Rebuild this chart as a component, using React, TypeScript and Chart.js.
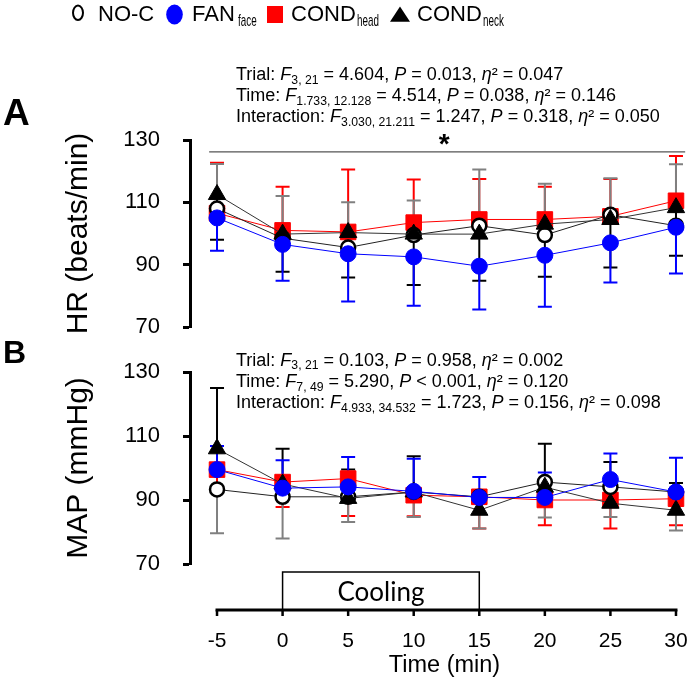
import React, { useEffect, useRef } from "react";
import { Chart, registerables } from "chart.js";

Chart.register(...registerables);

const FONT = '"Liberation Sans", Arial, Helvetica, sans-serif';
const BLUE = "#0000ff";
const RED = "#ff0000";
const GRAY = "#808080";
const BLACK = "#000000";

// Time points (min)
const TIMES = [-5, 0, 5, 10, 15, 20, 25, 30];
const X_TICKS = [-5, 0, 5, 10, 15, 20, 25, 30];
const Y_TICKS = [70, 90, 110, 130];
const COOLING = [0, 15];

// Heart rate (beats/min), mean and SD
const HR_NOC = [108, 98.5, 95.5, 99.5, 102.5, 99.5, 106, 102.5];
const HR_NOC_SD = [14.3, 13.5, 14.5, 11.1, 18, 16.5, 11.7, 19.7];
const HR_FAN = [105, 96.5, 93.5, 92.5, 89.5, 93, 97, 102];
const HR_FAN_SD = [10.5, 11.7, 15.3, 15.7, 13.9, 16.5, 12.7, 14.8];
const HR_HEAD = [106.5, 101, 100.5, 103.5, 104.5, 104.5, 105.5, 110.5];
const HR_HEAD_SD = [16.2, 14, 20, 13.8, 13, 10.5, 12, 14.4];
const HR_NECK = [112.5, 99.8, 100.3, 99.8, 99.8, 103, 104.5, 108.3];
const HR_NECK_SD = [14.5, 12.1, 14.4, 16.3, 15, 16.9, 15.4, 15.4];

// Mean arterial pressure (mmHg), mean and SD
const MAP_NOC = [93.3, 91, 91, 92.5, 91, 95.6, 94.1, 92.5];
const MAP_NOC_SD = [13.7, 13, 7.9, 7.8, 9.9, 11.1, 9.4, 12];
const MAP_FAN = [99.5, 93.7, 94.1, 92.7, 90.8, 90.8, 96.4, 92.5];
const MAP_FAN_SD = [7.4, 8.7, 9.3, 10.2, 6.4, 7.8, 8.1, 10.7];
const MAP_HEAD = [99.5, 95.6, 96.7, 91.5, 91, 90, 90, 90.4];
const MAP_HEAD_SD = [6, 7.8, 11.7, 6.6, 9.9, 7.9, 8.9, 8.3];
const MAP_NECK = [106, 95, 90.5, 92.5, 86.8, 94, 89, 86.8];
const MAP_NECK_SD = [19, 11, 9, 11.2, 6, 13.6, 12.9, 8.5];

// Time main-effect bracket in the HR panel
const SIG_SPAN = [-5.6, 30.7];
const SIG_Y = 126.2;

// x range of the plot area
const X_MIN = -7.06;
const X_MAX = 30.84;

const STATS_HR = [
  { name: "Trial", df: "3, 21", f: "4.604", p: "= 0.013", eta: "0.047" },
  { name: "Time", df: "1.733, 12.128", f: "4.514", p: "= 0.038", eta: "0.146" },
  { name: "Interaction", df: "3.030, 21.211", f: "1.247", p: "= 0.318", eta: "0.050" },
];
const STATS_MAP = [
  { name: "Trial", df: "3, 21", f: "0.103", p: "= 0.958", eta: "0.002" },
  { name: "Time", df: "7, 49", f: "5.290", p: "< 0.001", eta: "0.120" },
  { name: "Interaction", df: "4.933, 34.532", f: "1.723", p: "= 0.156", eta: "0.098" },
];

const errorBars = {
  id: "errorBars",
  beforeDatasetsDraw(chart: any) {
    const { ctx, scales } = chart;
    const xs = scales.x;
    const ys = scales.y;
    const sets = chart.data.datasets;
    for (let i = sets.length - 1; i >= 0; i--) {
      const ds = sets[i];
      if (!ds.sd) continue;
      ctx.save();
      ctx.strokeStyle = ds.errColor;
      ctx.lineWidth = 2;
      ds.data.forEach((p: any, j: number) => {
        const px = xs.getPixelForValue(p.x);
        const py = ys.getPixelForValue(p.y);
        const ey = ys.getPixelForValue(p.y + ds.dir * ds.sd[j]);
        ctx.beginPath();
        ctx.moveTo(px, py);
        ctx.lineTo(px, ey);
        ctx.moveTo(px - 7, ey);
        ctx.lineTo(px + 7, ey);
        ctx.stroke();
      });
      ctx.restore();
    }
  },
};

const asterisk = {
  id: "asterisk",
  afterDraw(chart: any) {
    const { ctx, scales } = chart;
    const cx = scales.x.getPixelForValue((SIG_SPAN[0] + SIG_SPAN[1]) / 2);
    const cy = scales.y.getPixelForValue(SIG_Y);
    ctx.save();
    ctx.fillStyle = BLACK;
    ctx.font = `bold 28px ${FONT}`;
    ctx.textAlign = "center";
    ctx.textBaseline = "alphabetic";
    ctx.fillText("*", cx - 3, cy + 1);
    ctx.restore();
  },
};

const timeAxis = {
  id: "timeAxis",
  afterDraw(chart: any) {
    const { ctx, scales, chartArea } = chart;
    const xs = scales.x;
    const axisY = chartArea.bottom + 46;
    const x0 = xs.getPixelForValue(X_TICKS[0]);
    const x1 = xs.getPixelForValue(X_TICKS[X_TICKS.length - 1]);
    ctx.save();
    ctx.strokeStyle = BLACK;
    // cooling period box
    const c0 = xs.getPixelForValue(COOLING[0]);
    const c1 = xs.getPixelForValue(COOLING[1]);
    ctx.lineWidth = 1.5;
    ctx.strokeRect(c0, axisY - 38, c1 - c0, 38);
    ctx.fillStyle = BLACK;
    ctx.font = `26px Lato, "Open Sans", sans-serif`;
    ctx.textAlign = "center";
    ctx.textBaseline = "alphabetic";
    ctx.fillText("Cooling", (c0 + c1) / 2, axisY - 9);
    // axis line and ticks
    ctx.lineWidth = 3;
    ctx.beginPath();
    ctx.moveTo(x0 - 1.5, axisY);
    ctx.lineTo(x1 + 1.5, axisY);
    ctx.stroke();
    ctx.lineWidth = 2.5;
    ctx.font = `21px ${FONT}`;
    X_TICKS.forEach((t) => {
      const px = xs.getPixelForValue(t);
      ctx.beginPath();
      ctx.moveTo(px, axisY);
      ctx.lineTo(px, axisY + 6);
      ctx.stroke();
      ctx.fillText(String(t), px, axisY + 37);
    });
    ctx.font = `23.5px ${FONT}`;
    ctx.fillText("Time (min)", (x0 + x1) / 2 - 2, axisY + 62);
    ctx.restore();
  },
};

type PanelSpec = {
  top: number;
  bottom: number;
  title: string;
  noc: number[];
  nocSd: number[];
  fan: number[];
  fanSd: number[];
  head: number[];
  headSd: number[];
  neck: number[];
  neckSd: number[];
  up: boolean; // NO-C / COND_head bars up, FAN / COND_neck bars down
  sig: boolean;
  axis: boolean;
};

function pts(vals: number[]) {
  return TIMES.map((t, i) => ({ x: t, y: vals[i] }));
}

function buildConfig(p: PanelSpec): any {
  const a = p.up ? 1 : -1;
  const datasets: any[] = [
    {
      label: "FANface",
      data: pts(p.fan),
      sd: p.fanSd,
      dir: -a,
      errColor: BLUE,
      borderColor: BLUE,
      borderWidth: 1,
      pointStyle: "circle",
      pointRadius: 8,
      pointBackgroundColor: BLUE,
      pointBorderColor: BLUE,
      pointBorderWidth: 1,
      clip: false,
    },
    {
      label: "CONDneck",
      data: pts(p.neck),
      sd: p.neckSd,
      dir: -a,
      errColor: BLACK,
      borderColor: "#333",
      borderWidth: 1,
      pointStyle: "triangle",
      pointRadius: 10,
      pointBackgroundColor: BLACK,
      pointBorderColor: BLACK,
      pointBorderWidth: 1,
      clip: false,
    },
    {
      label: "NO-C",
      data: pts(p.noc),
      sd: p.nocSd,
      dir: a,
      errColor: GRAY,
      borderColor: "#222",
      borderWidth: 1,
      pointStyle: "circle",
      pointRadius: 7,
      pointBackgroundColor: "#fff",
      pointBorderColor: BLACK,
      pointBorderWidth: 2.5,
      clip: false,
    },
    {
      label: "CONDhead",
      data: pts(p.head),
      sd: p.headSd,
      dir: a,
      errColor: RED,
      borderColor: RED,
      borderWidth: 1,
      pointStyle: "rect",
      pointRadius: 11,
      pointBackgroundColor: RED,
      pointBorderColor: RED,
      pointBorderWidth: 1,
      clip: false,
    },
  ];
  if (p.sig) {
    datasets.push({
      label: "time effect",
      data: [
        { x: SIG_SPAN[0], y: SIG_Y },
        { x: SIG_SPAN[1], y: SIG_Y },
      ],
      borderColor: "#555",
      borderWidth: 1.3,
      pointRadius: 0,
      clip: false,
    });
  }
  const plugins: any[] = [errorBars];
  if (p.sig) plugins.push(asterisk);
  if (p.axis) plugins.push(timeAxis);
  return {
    type: "line",
    data: { datasets },
    options: {
      responsive: false,
      animation: false,
      events: [],
      layout: {
        autoPadding: false,
        padding: { top: p.top, bottom: 686 - p.bottom, left: 0, right: 1 },
      },
      plugins: { legend: { display: false }, tooltip: { enabled: false } },
      scales: {
        x: { type: "linear", display: false, min: X_MIN, max: X_MAX },
        y: {
          type: "linear",
          min: Y_TICKS[0],
          max: Y_TICKS[Y_TICKS.length - 1],
          afterFit: (s: any) => {
            s.width = 190;
          },
          afterBuildTicks: (s: any) => {
            s.ticks = Y_TICKS.map((v) => ({ value: v }));
          },
          ticks: { color: BLACK, font: { family: FONT, size: 22 }, padding: 23 },
          grid: {
            drawOnChartArea: false,
            drawTicks: true,
            tickLength: 7,
            tickWidth: 3,
            tickColor: BLACK,
          },
          border: { display: true, color: BLACK, width: 3 },
          title: {
            display: true,
            text: p.title,
            color: BLACK,
            font: { family: FONT, size: 30 },
            padding: { top: 61, bottom: 0 },
          },
        },
      },
    },
    plugins,
  };
}

const PANEL_A: PanelSpec = {
  top: 140,
  bottom: 327,
  title: "HR (beats/min)",
  noc: HR_NOC,
  nocSd: HR_NOC_SD,
  fan: HR_FAN,
  fanSd: HR_FAN_SD,
  head: HR_HEAD,
  headSd: HR_HEAD_SD,
  neck: HR_NECK,
  neckSd: HR_NECK_SD,
  up: true,
  sig: true,
  axis: false,
};

const PANEL_B: PanelSpec = {
  top: 372,
  bottom: 564,
  title: "MAP (mmHg)",
  noc: MAP_NOC,
  nocSd: MAP_NOC_SD,
  fan: MAP_FAN,
  fanSd: MAP_FAN_SD,
  head: MAP_HEAD,
  headSd: MAP_HEAD_SD,
  neck: MAP_NECK,
  neckSd: MAP_NECK_SD,
  up: false,
  sig: false,
  axis: true,
};

function Panel({ spec }: { spec: PanelSpec }) {
  const ref = useRef<HTMLCanvasElement | null>(null);
  useEffect(() => {
    if (!ref.current) return;
    const chart = new Chart(ref.current, buildConfig(spec));
    return () => chart.destroy();
  }, [spec]);
  return (
    <canvas
      ref={ref}
      width={688}
      height={686}
      style={{ position: "absolute", left: 0, top: 0, width: 688, height: 686 }}
    />
  );
}

function Txt(props: {
  x: number;
  base: number;
  size: number;
  bold?: boolean;
  style?: React.CSSProperties;
  children: React.ReactNode;
}) {
  const { x, base, size, bold, style, children } = props;
  return (
    <div
      style={{
        position: "absolute",
        left: x,
        top: base - 0.8465 * size,
        fontSize: size,
        lineHeight: `${size}px`,
        fontWeight: bold ? "bold" : "normal",
        whiteSpace: "nowrap",
        fontFamily: FONT,
        color: BLACK,
        ...style,
      }}
    >
      {children}
    </div>
  );
}

const Sub = ({ children }: { children: React.ReactNode }) => (
  <span style={{ fontSize: "0.68em", position: "relative", top: "0.3em" }}>{children}</span>
);

function StatLines({ rows, bases }: { rows: typeof STATS_HR; bases: number[] }) {
  return (
    <>
      {rows.map((r, i) => (
        <Txt key={r.name} x={236} base={bases[i]} size={18}>
          {r.name}: <i>F</i>
          <Sub>{r.df}</Sub> = {r.f}, <i>P</i> {r.p}, <i>η</i>² = {r.eta}
        </Txt>
      ))}
    </>
  );
}

function LegendSub({ x, text }: { x: number; text: string }) {
  return (
    <Txt x={x} base={26.5} size={17} style={{ transform: "scaleX(0.58)", transformOrigin: "left" }}>
      {text}
    </Txt>
  );
}

export default function App() {
  return (
    <div
      style={{
        position: "fixed",
        left: 0,
        top: 0,
        width: 688,
        height: 686,
        background: "#fff",
        overflow: "hidden",
      }}
    >
      <Panel spec={PANEL_A} />
      <Panel spec={PANEL_B} />

      {/* legend */}
      <svg width={688} height={40} style={{ position: "absolute", left: 0, top: 0 }}>
        <ellipse cx={78} cy={12.8} rx={5} ry={7.2} fill="#fff" stroke={BLACK} strokeWidth={2} />
        <ellipse cx={174.5} cy={14.5} rx={8.3} ry={10} fill={BLUE} />
        <rect x={267} y={6} width={16} height={17} fill={RED} />
        <polygon points="390,21.7 410,21.7 400,6.5" fill={BLACK} />
      </svg>
      <Txt x={98} base={21.7} size={22}>NO-C</Txt>
      <Txt x={192} base={21.7} size={22}>FAN</Txt>
      <LegendSub x={237.5} text="face" />
      <Txt x={291} base={21.7} size={22}>COND</Txt>
      <LegendSub x={357} text="head" />
      <Txt x={417} base={21.7} size={22}>COND</Txt>
      <LegendSub x={483} text="neck" />

      {/* panel letters */}
      <Txt x={3} base={125} size={37} bold>A</Txt>
      <Txt x={3} base={363} size={32} bold>B</Txt>

      <StatLines rows={STATS_HR} bases={[80.5, 101.5, 122.5]} />
      <StatLines rows={STATS_MAP} bases={[366, 387.5, 408.5]} />
    </div>
  );
}
